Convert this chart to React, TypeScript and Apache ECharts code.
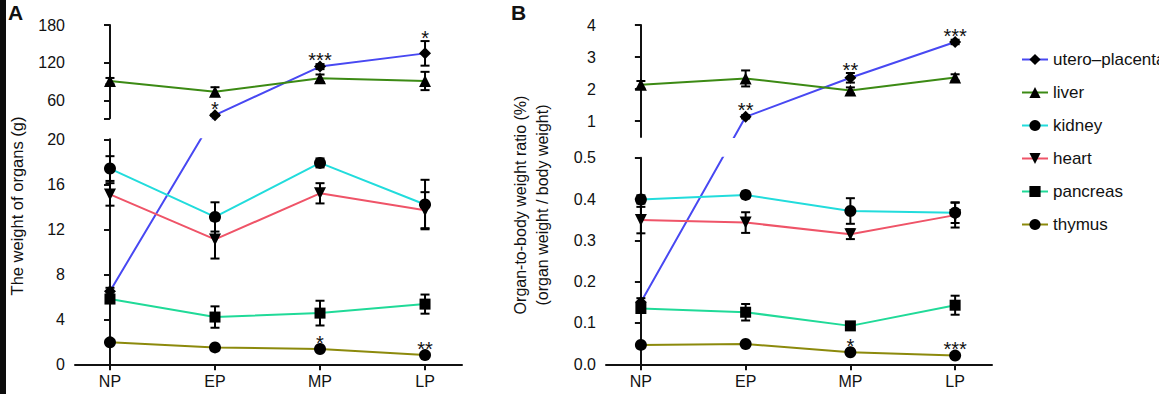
import { useEffect, useRef } from 'react';
import * as echarts from 'echarts';

const FONT = '"Liberation Sans", Arial, Helvetica, sans-serif';
const INK = '#111';

const categories = ['NP', 'EP', 'MP', 'LP'];
const organNames = ['utero–placenta', 'liver', 'kidney', 'heart', 'pancreas', 'thymus'];
const organColors = ['#4848f2', '#3c8a14', '#22dcdc', '#ef5468', '#20da98', '#8c8a0c'];
const organSymbols = ['diamond', 'triangle', 'circle', 'path://M0,0L10,0L5,9Z', 'rect', 'circle'];
const organSymbolSizes = [12, 12, 12, 12, 11, 12];

// Panel A: weight of organs (g)
const uteroA = [6.5, 37, 114, 135];
const uteroAErr = [0.3, 1.5, 4, 19.5];
const liverA = [91, 74.3, 95.5, 91.2];
const liverAErr = [5, 7, 6, 14.5];
const kidneyA = [17.4, 13.1, 17.9, 14.2];
const kidneyAErr = [1.1, 1.3, 0.4, 2.2];
const heartA = [15.1, 11.1, 15.2, 13.7];
const heartAErr = [1.0, 1.7, 0.9, 1.6];
const pancreasA = [5.8, 4.2, 4.55, 5.35];
const pancreasAErr = [0.3, 0.95, 1.1, 0.85];
const thymusA = [1.95, 1.5, 1.36, 0.82];
const thymusAErr = [0.1, 0.1, 0.1, 0.08];

// Panel B: organ-to-body weight ratio (%)
const uteroB = [0.15, 1.13, 2.35, 3.47];
const uteroBErr = [0.01, 0.05, 0.15, 0.07];
const liverB = [2.13, 2.33, 1.95, 2.36];
const liverBErr = [0.12, 0.25, 0.1, 0.1];
const kidneyB = [0.399, 0.41, 0.371, 0.367];
const kidneyBErr = [0.01, 0.008, 0.031, 0.025];
const heartB = [0.349, 0.343, 0.315, 0.361];
const heartBErr = [0.032, 0.025, 0.012, 0.03];
const pancreasB = [0.135, 0.126, 0.093, 0.143];
const pancreasBErr = [0.01, 0.02, 0.006, 0.023];
const thymusB = [0.047, 0.049, 0.029, 0.021];
const thymusBErr = [0.003, 0.003, 0.003, 0.003];

// significance marks: organ index, time point index, text
const starsAOrgan = [0, 0, 0, 5, 5];
const starsAPoint = [1, 2, 3, 2, 3];
const starsAText = ['*', '***', '*', '*', '**'];
const starsBOrgan = [0, 0, 0, 5, 5];
const starsBPoint = [1, 2, 3, 2, 3];
const starsBText = ['**', '**', '***', '*', '***'];

// axis ticks
const lowTicksA = [0, 4, 8, 12, 16, 20];
const upTicksA = [60, 120, 180];
const lowTicksB = [0, 0.1, 0.2, 0.3, 0.4, 0.5];
const upTicksB = [1, 2, 3, 4];

type Panel = {
  means: number[][];
  errs: number[][];
  lowMax: number;
  upMin: number;
  upMax: number;
  left: number;
  width: number;
  upTop: number;
  upBottom: number;
  lowTop: number;
  lowBottom: number;
  lowTicks: number[];
  upTicks: number[];
  lowFmt: (v: number) => string;
  upFmt: (v: number) => string;
  starOrgan: number[];
  starPoint: number[];
  starText: string[];
};

const panels: Panel[] = [
  {
    means: [uteroA, liverA, kidneyA, heartA, pancreasA, thymusA],
    errs: [uteroAErr, liverAErr, kidneyAErr, heartAErr, pancreasAErr, thymusAErr],
    lowMax: 20, upMin: 32, upMax: 180,
    left: 75, width: 387, upTop: 25, upBottom: 118.3, lowTop: 139.3, lowBottom: 364.3,
    lowTicks: lowTicksA, upTicks: upTicksA,
    lowFmt: (v) => String(v), upFmt: (v) => String(v),
    starOrgan: starsAOrgan, starPoint: starsAPoint, starText: starsAText,
  },
  {
    means: [uteroB, liverB, kidneyB, heartB, pancreasB, thymusB],
    errs: [uteroBErr, liverBErr, kidneyBErr, heartBErr, pancreasBErr, thymusBErr],
    lowMax: 0.5, upMin: 0.5, upMax: 4,
    left: 606, width: 386, upTop: 25, upBottom: 137, lowTop: 157.7, lowBottom: 364.3,
    lowTicks: lowTicksB, upTicks: upTicksB,
    lowFmt: (v) => v.toFixed(1), upFmt: (v) => String(v),
    starOrgan: starsBOrgan, starPoint: starsBPoint, starText: starsBText,
  },
];

const X_MIN = -0.333;
const X_MAX = 3.352;

function makeT(P: Panel) {
  const Hl = P.lowBottom - P.lowTop;
  const Hu = P.upBottom - P.upTop;
  const G = P.lowTop - P.upBottom;
  const t = (v: number) => {
    if (v <= P.lowMax) return (v / P.lowMax) * Hl;
    if (v >= P.upMin) return Hl + G + ((v - P.upMin) / (P.upMax - P.upMin)) * Hu;
    return Hl + ((v - P.lowMax) / (P.upMin - P.lowMax)) * G;
  };
  return { t, Hl, Hu, G };
}

function buildOption() {
  const grid: any[] = [];
  const xAxis: any[] = [];
  const yAxis: any[] = [];
  const series: any[] = [];

  panels.forEach((P, p) => {
    const { t, Hl, Hu, G } = makeT(P);
    const gUp = p * 2;
    const gLow = p * 2 + 1;
    grid.push({ left: P.left, width: P.width, top: P.upTop, height: P.upBottom - P.upTop, outerBoundsMode: 'none' });
    grid.push({ left: P.left, width: P.width, top: P.lowTop, height: P.lowBottom - P.lowTop, outerBoundsMode: 'none' });

    [gUp, gLow].forEach((g) => {
      const isLow = g === gLow;
      xAxis.push({
        type: 'value',
        gridIndex: g,
        min: X_MIN,
        max: X_MAX,
        show: isLow,
        axisLine: { show: true, onZero: false, lineStyle: { color: INK, width: 2 } },
        axisTick: { show: true, length: 6, lineStyle: { color: INK, width: 2 }, customValues: [0, 1, 2, 3] },
        axisLabel: {
          customValues: [0, 1, 2, 3],
          formatter: (v: number) => categories[Math.round(v)] ?? '',
          fontSize: 16, color: INK, fontFamily: FONT, margin: 9,
        },
        splitLine: { show: false },
      });
      const ticks = isLow ? P.lowTicks : P.upTicks;
      const fmt = isLow ? P.lowFmt : P.upFmt;
      const tickVals = isLow ? ticks.map(t) : [t(P.upMin), ...ticks.map(t)];
      const labelVals = ticks.map(t);
      yAxis.push({
        type: 'value',
        gridIndex: g,
        min: isLow ? 0 : Hl + G,
        max: isLow ? Hl : Hl + G + Hu,
        axisLine: { show: true, lineStyle: { color: INK, width: 2 } },
        axisTick: { show: true, length: 6, lineStyle: { color: INK, width: 2 }, customValues: tickVals },
        axisLabel: {
          customValues: labelVals,
          formatter: (val: number) => {
            let best = 0;
            let bd = Infinity;
            labelVals.forEach((lv, i) => {
              const d = Math.abs(lv - val);
              if (d < bd) { bd = d; best = i; }
            });
            return fmt(ticks[best]);
          },
          fontSize: 16, color: INK, fontFamily: FONT, margin: 10,
        },
        splitLine: { show: false },
      });

      // lines with markers (drawn in both parts, clipped by each grid)
      P.means.forEach((vals, o) => {
        series.push({
          type: 'line',
          name: organNames[o],
          xAxisIndex: g,
          yAxisIndex: g,
          data: vals.map((v, i) => [i, t(v)]),
          symbol: organSymbols[o],
          symbolSize: organSymbolSizes[o],
          showSymbol: true,
          itemStyle: { color: '#000' },
          lineStyle: { color: organColors[o], width: 2 },
          clip: true,
          silent: true,
          z: 3,
        });
      });

      // error bars
      const errData: number[][] = [];
      P.means.forEach((vals, o) => {
        vals.forEach((v, i) => {
          const inUp = v > P.lowMax;
          if (inUp === !isLow) {
            const e = P.errs[o][i];
            errData.push([i, t(v), t(v + e), t(v - e)]);
          }
        });
      });
      series.push({
        type: 'custom',
        xAxisIndex: g,
        yAxisIndex: g,
        data: errData,
        encode: { x: 0, y: 1 },
        silent: true,
        z: 4,
        renderItem: (params: any, api: any) => {
          const x = api.value(0);
          const c = api.coord([x, api.value(1)]);
          const top = api.coord([x, api.value(2)]);
          const bot = api.coord([x, api.value(3)]);
          const w = 4.5;
          const st = { stroke: '#000', lineWidth: 2 };
          return {
            type: 'group',
            children: [
              { type: 'line', shape: { x1: c[0], y1: top[1], x2: c[0], y2: bot[1] }, style: st },
              { type: 'line', shape: { x1: c[0] - w, y1: top[1], x2: c[0] + w, y2: top[1] }, style: st },
              { type: 'line', shape: { x1: c[0] - w, y1: bot[1], x2: c[0] + w, y2: bot[1] }, style: st },
            ],
          };
        },
      });

      // significance stars
      const starData: number[][] = [];
      const starTexts: string[] = [];
      P.starOrgan.forEach((o, k) => {
        const i = P.starPoint[k];
        const v = P.means[o][i];
        const inUp = v > P.lowMax;
        if (inUp === !isLow) {
          starData.push([i, t(v), t(v + P.errs[o][i])]);
          starTexts.push(P.starText[k]);
        }
      });
      series.push({
        type: 'custom',
        xAxisIndex: g,
        yAxisIndex: g,
        data: starData,
        encode: { x: 0, y: 1 },
        silent: true,
        clip: false,
        z: 5,
        renderItem: (params: any, api: any) => {
          const x = api.value(0);
          const c = api.coord([x, api.value(1)]);
          const top = api.coord([x, api.value(2)]);
          const centerY = Math.min(top[1] - 8, c[1] - 11);
          return {
            type: 'text',
            x: c[0],
            y: centerY + 4.6,
            style: {
              text: starTexts[params.dataIndex],
              fontSize: 20,
              fontFamily: FONT,
              fill: INK,
              align: 'center',
              verticalAlign: 'middle',
            },
          };
        },
      });
    });
  });

  return {
    animation: false,
    backgroundColor: '#fff',
    textStyle: { fontFamily: FONT },
    grid,
    xAxis,
    yAxis,
    series,
    legend: {
      data: organNames,
      orient: 'vertical',
      left: 1021,
      top: 51,
      itemWidth: 26,
      itemHeight: 14,
      itemGap: 16,
      padding: 0,
      selectedMode: false,
      textStyle: { fontSize: 17, color: INK, fontFamily: FONT },
    },
    graphic: [
      { type: 'rect', left: 0, top: 0, shape: { x: 0, y: 0, width: 6, height: 394 }, style: { fill: '#0c0c0c' } },
      { type: 'text', x: 15.5, y: 12.5, style: { text: 'A', fontSize: 21, fontWeight: 'bold', fontFamily: FONT, fill: INK, align: 'center', verticalAlign: 'middle' } },
      { type: 'text', x: 518.5, y: 12.5, style: { text: 'B', fontSize: 21, fontWeight: 'bold', fontFamily: FONT, fill: INK, align: 'center', verticalAlign: 'middle' } },
      { type: 'text', x: 17, y: 206, rotation: Math.PI / 2, style: { text: 'The weight of organs (g)', fontSize: 16.5, fontFamily: FONT, fill: INK, align: 'center', verticalAlign: 'middle' } },
      { type: 'text', x: 531, y: 205, rotation: Math.PI / 2, style: { text: 'Organ-to-body weight ratio (%)\n(organ weight / body weight)', fontSize: 16, lineHeight: 22, fontFamily: FONT, fill: INK, align: 'center', verticalAlign: 'middle' } },
    ],
  };
}

export default function App() {
  const ref = useRef<HTMLDivElement>(null);
  useEffect(() => {
    document.body.style.margin = '0';
    const chart = echarts.init(ref.current as HTMLDivElement, null, { renderer: 'svg' });
    chart.setOption(buildOption() as any);
    return () => chart.dispose();
  }, []);
  return <div ref={ref} style={{ width: 1159, height: 394, background: '#fff' }} />;
}
